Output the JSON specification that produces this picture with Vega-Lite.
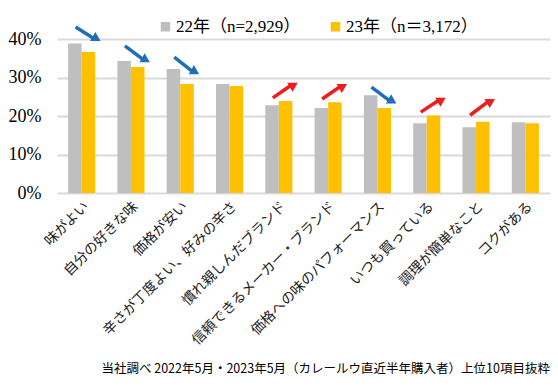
{
  "$schema": "https://vega.github.io/schema/vega-lite/v6.json",
  "width": 493,
  "height": 154,
  "autosize": {"type": "none"},
  "padding": {"left": 57, "top": 39, "right": 8, "bottom": 193},
  "background": "white",
  "title": {
    "text": "当社調べ 2022年5月・2023年5月（カレールウ直近半年購入者）上位10項目抜粋",
    "orient": "bottom",
    "anchor": "end",
    "font": "Noto Sans CJK JP",
    "fontSize": 12.5,
    "fontWeight": "normal",
    "color": "#000000",
    "offset": 16
  },
  "datasets": {
    "bars": [
      {"cat": "味がよい", "series": "22年（n=2,929）", "value": 0.388},
      {"cat": "味がよい", "series": "23年（n＝3,172）", "value": 0.366},
      {"cat": "自分の好きな味", "series": "22年（n=2,929）", "value": 0.343},
      {"cat": "自分の好きな味", "series": "23年（n＝3,172）", "value": 0.327},
      {"cat": "価格が安い", "series": "22年（n=2,929）", "value": 0.322},
      {"cat": "価格が安い", "series": "23年（n＝3,172）", "value": 0.283},
      {"cat": "辛さが丁度よい、好みの辛さ", "series": "22年（n=2,929）", "value": 0.283},
      {"cat": "辛さが丁度よい、好みの辛さ", "series": "23年（n＝3,172）", "value": 0.278},
      {"cat": "慣れ親しんだブランド", "series": "22年（n=2,929）", "value": 0.228},
      {"cat": "慣れ親しんだブランド", "series": "23年（n＝3,172）", "value": 0.239},
      {"cat": "信頼できるメーカー・ブランド", "series": "22年（n=2,929）", "value": 0.221},
      {"cat": "信頼できるメーカー・ブランド", "series": "23年（n＝3,172）", "value": 0.236},
      {"cat": "価格への味のパフォーマンス", "series": "22年（n=2,929）", "value": 0.254},
      {"cat": "価格への味のパフォーマンス", "series": "23年（n＝3,172）", "value": 0.221},
      {"cat": "いつも買っている", "series": "22年（n=2,929）", "value": 0.181},
      {"cat": "いつも買っている", "series": "23年（n＝3,172）", "value": 0.201},
      {"cat": "調理が簡単なこと", "series": "22年（n=2,929）", "value": 0.171},
      {"cat": "調理が簡単なこと", "series": "23年（n＝3,172）", "value": 0.185},
      {"cat": "コクがある", "series": "22年（n=2,929）", "value": 0.184},
      {"cat": "コクがある", "series": "23年（n＝3,172）", "value": 0.181}
    ],
    "arrows": [
      {"cat": "味がよい", "dir": "down", "tail": 0.431, "head": 0.398},
      {"cat": "自分の好きな味", "dir": "down", "tail": 0.382, "head": 0.343},
      {"cat": "価格が安い", "dir": "down", "tail": 0.353, "head": 0.312},
      {"cat": "慣れ親しんだブランド", "dir": "up", "tail": 0.247, "head": 0.283},
      {"cat": "信頼できるメーカー・ブランド", "dir": "up", "tail": 0.244, "head": 0.280},
      {"cat": "価格への味のパフォーマンス", "dir": "down", "tail": 0.275, "head": 0.236},
      {"cat": "いつも買っている", "dir": "up", "tail": 0.210, "head": 0.244},
      {"cat": "調理が簡単なこと", "dir": "up", "tail": 0.202, "head": 0.241}
    ]
  },
  "encoding": {
    "x": {
      "field": "cat",
      "type": "nominal",
      "sort": null,
      "scale": {"paddingInner": 0.45, "paddingOuter": 0.225},
      "axis": {
        "title": null,
        "labelAngle": -45,
        "labelFont": "Noto Sans CJK JP",
        "labelFontSize": 14,
        "labelColor": "#222222",
        "labelPadding": 6,
        "labelDx": 3,
        "ticks": false,
        "domain": false,
        "labelLimit": 300
      }
    },
    "y": {
      "field": "value",
      "type": "quantitative",
      "scale": {"domain": [0, 0.4], "nice": false},
      "axis": {
        "title": null,
        "format": ".0%",
        "values": [0, 0.1, 0.2, 0.3, 0.4],
        "tickCount": 5,
        "labelOverlap": false,
        "labelFont": "Liberation Serif",
        "labelFontSize": 18,
        "labelColor": "#000000",
        "labelPadding": 16,
        "ticks": false,
        "domain": false,
        "grid": true,
        "gridColor": "#d9d9d9",
        "gridWidth": 2
      }
    }
  },
  "layer": [
    {
      "data": {"name": "bars"},
      "mark": {"type": "bar"},
      "encoding": {
        "xOffset": {"field": "series", "type": "nominal", "scale": {"paddingInner": 0}},
        "color": {
          "field": "series",
          "type": "nominal",
          "scale": {"range": ["#BFBFBF", "#FFC000"]},
          "legend": {
            "title": null,
            "orient": "none",
            "direction": "horizontal",
            "legendX": 100,
            "legendY": -21,
            "symbolType": "square",
            "symbolSize": 90,
            "symbolStrokeWidth": 0,
            "labelFont": "Liberation Serif, Noto Sans CJK JP",
            "labelFontSize": 17,
            "labelColor": "#000000",
            "labelOffset": 2,
            "columnPadding": 26
          }
        }
      }
    },
    {
      "data": {"name": "arrows"},
      "transform": [{"filter": "datum.dir === 'down'"}],
      "mark": {"type": "rule", "color": "#1F6FB8", "strokeWidth": 3.5, "xOffset": -6, "x2Offset": 14},
      "encoding": {
        "x": {"field": "cat", "type": "nominal", "sort": null, "bandPosition": 0.5},
        "x2": {"field": "cat"},
        "y": {"field": "tail", "type": "quantitative"},
        "y2": {"field": "head"}
      }
    },
    {
      "data": {"name": "arrows"},
      "transform": [{"filter": "datum.dir === 'up'"}],
      "mark": {"type": "rule", "color": "#EE1C1C", "strokeWidth": 3.5, "xOffset": -6, "x2Offset": 14},
      "encoding": {
        "x": {"field": "cat", "type": "nominal", "sort": null, "bandPosition": 0.5},
        "x2": {"field": "cat"},
        "y": {"field": "tail", "type": "quantitative"},
        "y2": {"field": "head"}
      }
    },
    {
      "data": {"name": "arrows"},
      "transform": [{"filter": "datum.dir === 'down'"}],
      "mark": {"type": "point", "shape": "triangle-right", "filled": true, "color": "#1F6FB8", "size": 110, "opacity": 1, "angle": 30, "xOffset": 15, "yOffset": -1},
      "encoding": {
        "x": {"field": "cat", "type": "nominal", "sort": null},
        "y": {"field": "head", "type": "quantitative"}
      }
    },
    {
      "data": {"name": "arrows"},
      "transform": [{"filter": "datum.dir === 'up'"}],
      "mark": {"type": "point", "shape": "triangle-right", "filled": true, "color": "#EE1C1C", "size": 110, "opacity": 1, "angle": -30, "xOffset": 15, "yOffset": 1},
      "encoding": {
        "x": {"field": "cat", "type": "nominal", "sort": null},
        "y": {"field": "head", "type": "quantitative"}
      }
    }
  ],
  "config": {
    "view": {"stroke": null},
    "axisY": {"labelFont": "Liberation Serif", "labelFontSize": 18}
  }
}
